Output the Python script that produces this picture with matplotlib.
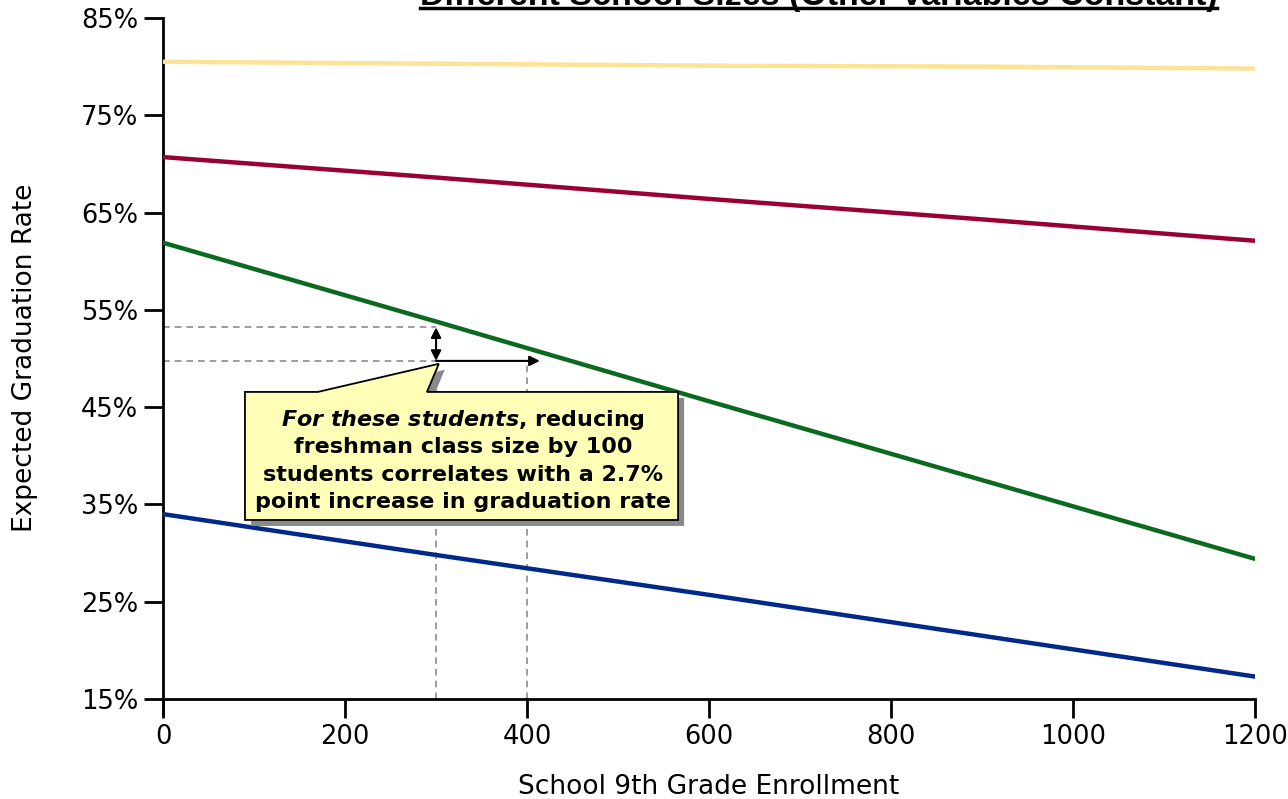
import matplotlib
matplotlib.use("Agg")
import matplotlib.pyplot as plt
from matplotlib.patches import Polygon
from matplotlib.lines import Line2D
import matplotlib.transforms as mtransforms
from matplotlib.ticker import FuncFormatter

plt.rcParams['font.family'] = ['DejaVu Sans']
plt.rcParams['mathtext.fontset'] = 'custom'
plt.rcParams['mathtext.it'] = 'DejaVu Sans:italic:bold'
plt.rcParams['mathtext.rm'] = 'DejaVu Sans:bold'
plt.rcParams['mathtext.bf'] = 'DejaVu Sans:bold'

# ---- data ----
enrollment = [0, 300, 600, 900, 1200]
yellow_rate = [80.5, 80.3, 80.1, 80.0, 79.8]
red_rate = [70.7, 68.6, 66.4, 64.3, 62.1]
green_rate = [61.9, 53.8, 45.6, 37.5, 29.4]
blue_rate = [34.0, 29.8, 25.7, 21.5, 17.3]

x_ticks = [0, 200, 400, 600, 800, 1000, 1200]
y_ticks = [15, 25, 35, 45, 55, 65, 75, 85]

ref_x0, ref_x1 = 300, 400
ref_y_top, ref_y_bot = 53.2, 49.75
arrow_x_end = 414

title = "Different School Sizes (Other Variables Constant)"
xlabel = "School 9th Grade Enrollment"
ylabel = "Expected Graduation Rate"
callout_lines = [r"$\it{For\ these\ students}$, reducing",
                 "freshman class size by 100",
                 "students correlates with a 2.7%",
                 "point increase in graduation rate"]

fig = plt.figure(figsize=(12.88, 7.99), dpi=100)
ax = fig.add_axes([0.1266, 0.1252, 0.8478, 0.8523])

ax.plot(enrollment, yellow_rate, color='#FDE396', lw=3.2, solid_capstyle='round', zorder=3)
ax.plot(enrollment, red_rate, color='#990033', lw=3.2, solid_capstyle='round', zorder=3)
ax.plot(enrollment, green_rate, color='#0B6A1F', lw=3.2, solid_capstyle='round', zorder=3)
ax.plot(enrollment, blue_rate, color='#00298A', lw=3.2, solid_capstyle='round', zorder=3)

# dashed reference lines
dash_kw = dict(color='#8C8C8C', lw=1.2, ls=(0, (4, 3)), zorder=2)
ax.plot([0, ref_x0], [ref_y_top, ref_y_top], **dash_kw)
ax.plot([0, ref_x0], [ref_y_bot, ref_y_bot], **dash_kw)
ax.plot([ref_x0, ref_x0], [15, ref_y_bot], **dash_kw)
ax.plot([ref_x1, ref_x1], [15, ref_y_bot], **dash_kw)

# arrows
ax.annotate('', xy=(ref_x0, ref_y_top), xytext=(ref_x0, ref_y_bot),
            arrowprops=dict(arrowstyle='<|-|>', color='black', lw=1.5,
                            mutation_scale=15, shrinkA=0, shrinkB=0), zorder=6)
ax.annotate('', xy=(arrow_x_end, ref_y_bot), xytext=(ref_x0, ref_y_bot),
            arrowprops=dict(arrowstyle='-|>', color='black', lw=1.5,
                            mutation_scale=15, shrinkA=0, shrinkB=0), zorder=6)

# callout box
bx0, bx1, by0, by1 = 90, 566, 33.4, 46.56
verts = [(bx0, by0), (bx1, by0), (bx1, by1), (290, by1), (ref_x0 + 3, ref_y_bot - 0.3),
         (170, by1), (bx0, by1)]
shadow_tr = mtransforms.offset_copy(ax.transData, fig=fig, x=6, y=-6, units='dots')
ax.add_patch(Polygon(verts, closed=True, facecolor='#8A8A8A', edgecolor='none',
                     transform=shadow_tr, zorder=4))
ax.add_patch(Polygon(verts, closed=True, facecolor='#FFFFB8', edgecolor='black',
                     lw=1.3, zorder=5))
line_y = [43.7, 40.85, 38.0, 35.2]
for s, yy in zip(callout_lines, line_y):
    ax.text(330, yy, s, ha='center', va='center', fontsize=16, fontweight='bold', zorder=7)

ax.set_xlim(0, 1200)
ax.set_ylim(15, 85)
ax.set_xticks(x_ticks)
ax.set_yticks(y_ticks)
ax.yaxis.set_major_formatter(FuncFormatter(lambda v, p: f"{v:.0f}%"))
for s in ['top', 'right']:
    ax.spines[s].set_visible(False)
for s in ['left', 'bottom']:
    ax.spines[s].set_linewidth(2)
    ax.spines[s].set_color('black')
ax.tick_params(axis='both', direction='out', length=14, width=2, labelsize=18.5, pad=4)
ax.spines['left'].set_bounds(13.5, 85)
ax.set_xlabel(xlabel, fontsize=19, va='center')
ax.set_ylabel(ylabel, fontsize=19, va='center')
ax.xaxis.set_label_coords(0.5, -0.129)
ax.yaxis.set_label_coords(-0.1264, 0.5007)

t = fig.text(0.6355, 1 - 5 / 799, title, ha='center', va='baseline', fontsize=24.5,
             fontweight='bold', family='Liberation Sans')
fig.canvas.draw()
bb = t.get_window_extent()
fig.add_artist(Line2D([bb.x0, bb.x1], [799 - 8, 799 - 8], color='black', lw=2.5,
                      transform=None))

fig.savefig('out.png', dpi=100)
